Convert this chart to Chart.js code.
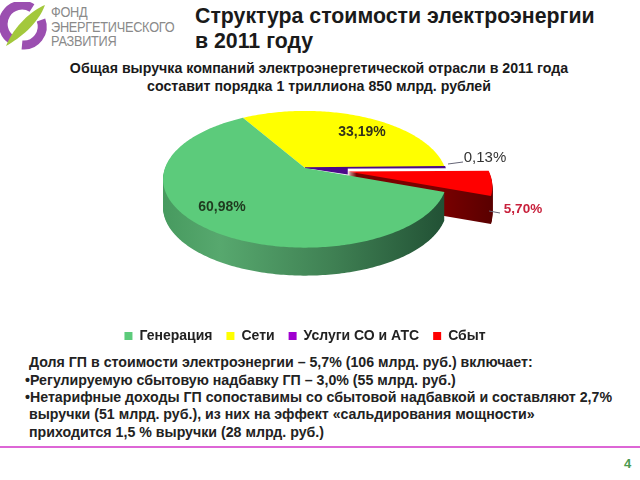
<!DOCTYPE html>
<html lang="ru">
<head>
<meta charset="UTF-8">
<title>Структура стоимости электроэнергии</title>
<script src="https://cdn.jsdelivr.net/npm/chart.js"></script>
<style>
    html, body { margin: 0; padding: 0; background: #fff; }
    body { width: 640px; height: 480px; position: relative; overflow: hidden; font-family: "Liberation Sans", Arial, sans-serif; }
    canvas { position: absolute; left: 0; top: 0; }
    .t { position: absolute; white-space: nowrap; color: #1a1a1a; }
    .title { left: 195px; font-size: 21.3px; font-weight: bold; }
    .sub { left: 0; width: 638px; text-align: center; font-size: 14.2px; font-weight: bold; }
    .note { font-size: 14.2px; font-weight: bold; color: #222; }
    .brand { left: 51px; font-size: 14.5px; color: #8a8a8a; letter-spacing: -0.3px; transform: scaleX(0.88); transform-origin: left top; }
    #rule { position: absolute; left: 0; top: 446px; width: 640px; height: 2px; background: #dd66d6; }
    #page { left: 624px; top: 456px; font-size: 13px; font-weight: bold; color: #4a9a50; }
</style>
</head>
<body>

<svg width="52" height="52" style="position:absolute;left:0;top:2px">
    <path d="M 32 6 A 18.5 18.5 0 0 0 12 38" fill="none" stroke="#9b4fb0" stroke-width="9"/>
    <path d="M 41 18 A 18.5 18.5 0 0 1 22 43" fill="none" stroke="#9b4fb0" stroke-width="9"/>
    <path d="M 45 3 C 32 8 14 24 6 44 C 20 36 38 22 45 3 Z" fill="#a3c83c"/>
</svg>
<div class="t brand" style="top:4px">ФОНД</div>
<div class="t brand" style="top:19px">ЭНЕРГЕТИЧЕСКОГО</div>
<div class="t brand" style="top:33px">РАЗВИТИЯ</div>

<div class="t title" style="top:4px">Структура стоимости электроэнергии</div>
<div class="t title" style="top:29px">в 2011 году</div>
<div class="t sub" style="top:60px">Общая выручка компаний электроэнергетической отрасли в 2011 года</div>
<div class="t sub" style="top:78px">составит порядка 1 триллиона 850 млрд. рублей</div>

<canvas id="pie" width="612" height="353"></canvas>

<div class="t note" style="left:29px;top:354px">Доля ГП в стоимости электроэнергии – 5,7% (106 млрд. руб.) включает:</div>
<div class="t note" style="left:25px;top:372px">•Регулируемую сбытовую надбавку ГП – 3,0% (55 млрд. руб.)</div>
<div class="t note" style="left:25px;top:389px">•Нетарифные доходы ГП сопоставимы со сбытовой надбавкой и составляют 2,7%</div>
<div class="t note" style="left:29px;top:406px">выручки (51 млрд. руб.),  из них на эффект «сальдирования мощности»</div>
<div class="t note" style="left:29px;top:424px">приходится 1,5 % выручки (28 млрд. руб.)</div>

<div id="rule"></div>
<div class="t" id="page">4</div>

<script>
    const categories = ['Генерация', 'Сети', 'Услуги СО и АТС', 'Сбыт'];
    const shares = [60.98, 33.19, 0.13, 5.70];
    const sliceColors = ['#5ccb7b', '#ffff00', '#a000d0', '#ff0000'];

    // Perspective of the tilted disc
    const tilt = 0.165;
    const squash = 0.475;
    const depth = 28;
    const thinSliceColor = '#4b0a8a';

    function project(arc, ux, uy) {
        const r = arc.outerRadius;
        const w = 1 - tilt * uy;
        return [arc.x + r * ux / w, arc.y + r * squash * uy / w];
    }

    function explode(arc) {
        const mid = (arc.startAngle + arc.endAngle) / 2;
        const off = (arc.options.offset || 0) / arc.outerRadius;
        return [Math.cos(mid) * off, Math.sin(mid) * off];
    }

    function slicePath(ctx, arc, dy) {
        const [ox, oy] = explode(arc);
        const steps = Math.max(2, Math.ceil((arc.endAngle - arc.startAngle) * 60));
        ctx.beginPath();
        const c = project(arc, ox, oy);
        ctx.moveTo(c[0], c[1] + dy);
        for (let i = 0; i <= steps; i++) {
            const a = arc.startAngle + (arc.endAngle - arc.startAngle) * i / steps;
            const p = project(arc, Math.cos(a) + ox, Math.sin(a) + oy);
            ctx.lineTo(p[0], p[1] + dy);
        }
        ctx.closePath();
    }

    function wall(ctx, arc, fill) {
        ctx.fillStyle = fill;
        for (let d = depth; d > 0; d--) {
            slicePath(ctx, arc, d);
            ctx.fill();
        }
    }

    // Draws the library's arc elements as an extruded disc
    const pie3d = {
        id: 'pie3d',
        beforeDatasetsDraw(chart) {
            const ctx = chart.ctx;
            const arcs = chart.getDatasetMeta(0).data;
            const green = ctx.createLinearGradient(163, 0, 447, 0);
            green.addColorStop(0, '#479a5f');
            green.addColorStop(0.2, '#57a86e');
            green.addColorStop(0.6, '#3f8053');
            green.addColorStop(1, '#215034');
            const red = ctx.createLinearGradient(440, 0, 495, 0);
            red.addColorStop(0, '#7a0000');
            red.addColorStop(1, '#580000');

            ctx.save();
            wall(ctx, arcs[3], red);
            slicePath(ctx, arcs[3], 0);
            ctx.fillStyle = sliceColors[3];
            ctx.fill();
            slicePath(ctx, arcs[1], 0);
            ctx.fillStyle = sliceColors[1];
            ctx.fill();

            // dark gap left behind the pulled-out slice
            const [ox, oy] = explode(arcs[3]);
            const apex = project(arcs[3], ox, oy);
            ctx.beginPath();
            ctx.moveTo(arcs[3].x, arcs[3].y);
            ctx.lineTo(apex[0], apex[1] + 3);
            ctx.lineTo(apex[0], arcs[3].y);
            ctx.closePath();
            ctx.fillStyle = thinSliceColor;
            ctx.fill();

            slicePath(ctx, arcs[2], 0);
            ctx.fillStyle = thinSliceColor;
            ctx.strokeStyle = thinSliceColor;
            ctx.lineWidth = 1.5;
            ctx.fill();
            ctx.stroke();

            wall(ctx, arcs[0], green);
            slicePath(ctx, arcs[0], 0);
            ctx.fillStyle = sliceColors[0];
            ctx.fill();
            ctx.restore();
            return false;
        },
        afterDraw(chart) {
            const ctx = chart.ctx;
            const pct = shares.map(v => v.toFixed(2).replace('.', ',') + '%');
            ctx.save();
            ctx.textAlign = 'center';
            ctx.textBaseline = 'middle';
            ctx.font = 'bold 14px "Liberation Sans", Arial, sans-serif';
            ctx.fillStyle = '#1f3a1f';
            ctx.fillText(pct[0], 222, 207);
            ctx.fillStyle = '#33331a';
            ctx.fillText(pct[1], 362, 132);
            ctx.font = '15px "Liberation Sans", Arial, sans-serif';
            ctx.fillStyle = '#333';
            ctx.fillText(pct[2], 485, 158);
            ctx.font = 'bold 13.5px "Liberation Sans", Arial, sans-serif';
            ctx.fillStyle = '#c8213c';
            ctx.fillText(pct[3], 523, 209);
            ctx.strokeStyle = '#667';
            ctx.lineWidth = 1;
            ctx.beginPath();
            ctx.moveTo(448, 164);
            ctx.lineTo(463, 162);
            ctx.moveTo(489, 211);
            ctx.lineTo(500, 213);
            ctx.stroke();
            ctx.restore();
        }
    };

    new Chart(document.getElementById('pie'), {
        type: 'pie',
        data: {
            labels: categories,
            datasets: [{
                data: shares,
                backgroundColor: sliceColors,
                borderWidth: 0,
                offset: [0, 0, 0, 43],
                radius: 140
            }]
        },
        options: {
            responsive: false,
            animation: false,
            rotation: 110,
            layout: { padding: { top: 21, right: 2 } },
            plugins: {
                tooltip: { enabled: false },
                legend: {
                    position: 'bottom',
                    labels: {
                        boxWidth: 8,
                        boxHeight: 8,
                        padding: 14,
                        color: '#222',
                        font: { family: '"Liberation Sans", Arial, sans-serif', size: 14, weight: 'bold' }
                    }
                }
            }
        },
        plugins: [pie3d]
    });
</script>

</body>
</html>
